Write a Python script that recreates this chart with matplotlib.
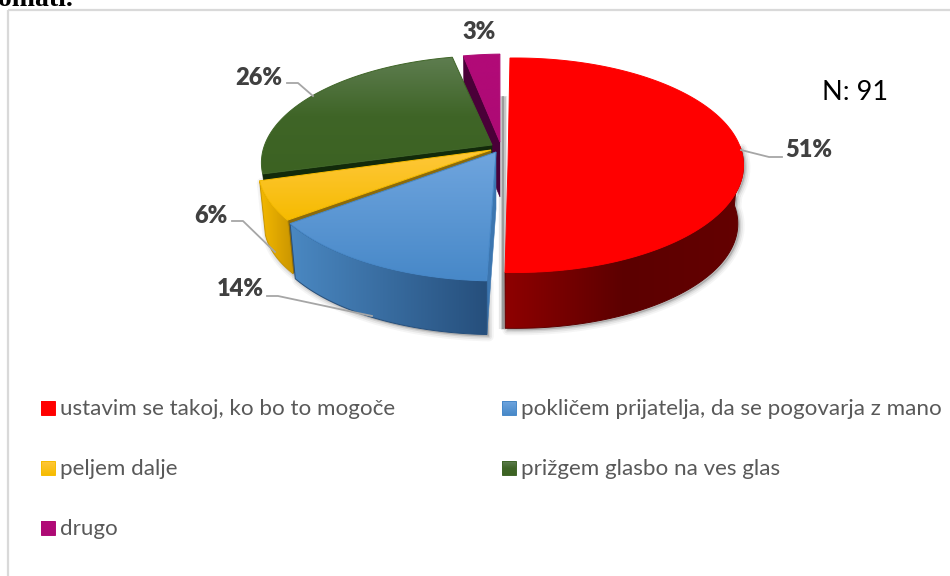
import numpy as np
import matplotlib
matplotlib.use('Agg')
import matplotlib.pyplot as plt
from matplotlib.colors import LinearSegmentedColormap
from matplotlib.patches import Polygon, Rectangle

plt.rcParams['font.family'] = ['Lato', 'DejaVu Sans']

# data
labels = ['ustavim se takoj, ko bo to mogoče', 'pokličem prijatelja, da se pogovarja z mano',
          'peljem dalje', 'prižgem glasbo na ves glas', 'drugo']
values = [51, 14, 6, 26, 3]
n_text = 'N: 91'

# slice styling, same order as values
centre_x = [515, 497, 491, 494, 505]
centre_y = [146.5, 150, 152, 144, 146]
hub_x = [508, 496, 491, 492, 500]
hub_y = [165, 152, 150, 145, 142]
radius_x = [225, 233, 229, 229, 229]
radius_y = [104, 108, 100, 104, 108]
depth = [59, 57, 55, 55, 55]
top_cols = [['#ff0000', '#ff0000'], ['#6fa5de', '#4788c8'], ['#ffc83c', '#f6bb00'],
            ['#5e7d50', '#3f6527', '#3c6222'], ['#b20a78', '#ad0a74']]
wall_cols = [['#8e0000', '#5c0000', '#640000'], ['#4a88c2', '#264f7c'], ['#f4b800', '#c99500'],
             ['#1c3a10', '#1c3a10'], ['#4a0038', '#4a0038']]
face_cols = ['#8e0000', '#3c76b0', '#8a6a0c', '#122a0a', '#4a0038']
leaders = [[(741, 150), (769, 157), (782, 157)], [(267, 296), (278, 296), (372, 316)],
           [(232, 221), (243, 221), (275, 252)], [(287, 83), (298, 83), (313, 96)], None]
label_xy = [(809, 150), (240, 289), (211, 216), (259, 78), (479, 32)]

start_deg = -1.5
persp = 0.175
shrink = 0.975


def rim(i, t_deg, low=False):
    # point of the slice rim, pie seen in perspective
    t = np.radians(t_deg)
    X, Y = np.sin(t), np.cos(t)
    s = 1 / (1 + persp * Y)
    k = shrink if low else 1
    x = centre_x[i] + radius_x[i] * X * s * k
    y = centre_y[i] - radius_y[i] * Y * s * k + (depth[i] if low else 0)
    return np.column_stack([x, y])


def grad(pts, cols, vertical=True):
    pts = np.asarray(pts)
    cmap = LinearSegmentedColormap.from_list('g', cols)
    g = np.linspace(0, 1, 256)
    g = g[:, None] if vertical else g[None, :]
    x0, y0 = pts.min(axis=0)
    x1, y1 = pts.max(axis=0)
    im = ax.imshow(g, cmap=cmap, extent=(x0, x1, y1, y0), aspect='auto', origin='upper', zorder=z[0],
                   interpolation='bilinear')
    im.set_clip_path(Polygon(pts, transform=ax.transData))
    ax.add_patch(Polygon(pts, fill=False, ec=cols[len(cols) // 2], lw=0.7, zorder=z[0]))
    z[0] += 1


z = [3]
fig = plt.figure(figsize=(9.5, 5.76), dpi=100)
ax = fig.add_axes([0, 0, 1, 1])
ax.axis('off')

ax.text(-2, 6, 'omati.', family=['Liberation Serif'], fontweight='bold', fontsize=20, color='black',
        ha='left', va='baseline', clip_on=False)
ax.add_patch(Rectangle((8, 10), 1000, 700, fill=False, ec='#d9d9d9', lw=1.6, zorder=1))

edges = start_deg + np.concatenate([[0], np.cumsum(values)]) * 3.6
slices = list(zip(edges[:-1], edges[1:]))
draw_order = [4, 3, 2, 1, 0]

# soft shadow under the walls
for i in draw_order[2:]:
    t0, t1 = slices[i]
    t = np.linspace(max(t0, 90), min(t1, 270), 60)
    pts = np.vstack([rim(i, t), rim(i, t[::-1], low=True)]) + [2, 2]
    for w, a in [(7, 0.05), (4.5, 0.08), (2, 0.12)]:
        ax.add_patch(Polygon(pts, fc='#404040', ec='#404040', lw=w, alpha=a, zorder=2, joinstyle='round'))

# grey shadow left of the red slice
top_p, end_p = rim(0, slices[0][0])[0], rim(0, slices[0][1], low=True)[0]
for w, a in [(6, 0.12), (3.5, 0.2), (1.5, 0.3)]:
    ax.plot([end_p[0] - 2, end_p[0] - 2], [top_p[1] + 38, end_p[1] + 1], color='#404040', lw=w, alpha=a,
            zorder=2, solid_capstyle='butt')

for i in draw_order:
    t0, t1 = slices[i]
    hub = np.array([[hub_x[i], hub_y[i]]])
    # cut face at the start of the slice
    p_hi, p_lo = rim(i, t0), rim(i, t0, low=True)
    face = np.vstack([hub, p_hi, p_lo, hub + [0, depth[i]]])
    if i != 0:
        ax.add_patch(Polygon(face, fc=face_cols[i], ec=face_cols[i], lw=0.4, zorder=z[0]))
        z[0] += 1
    # outer wall
    a, b = max(t0, 90), min(t1, 270)
    if b > a and i != 3:
        t = np.linspace(a, b, 80)
        grad(np.vstack([rim(i, t), rim(i, t[::-1], low=True)]), wall_cols[i], vertical=False)
    # top
    top = np.vstack([hub, rim(i, np.linspace(t0, t1, 120))])
    grad(top, top_cols[i])

for i, path in enumerate(leaders):
    if path:
        ax.plot(*zip(*path), color='#a6a6a6', lw=1.3, zorder=60)
    ax.text(*label_xy[i], f'{values[i]}%', fontsize=17, fontweight='heavy', color='#404040',
            ha='center', va='center', zorder=61)

ax.text(855, 93, n_text, fontsize=19.5, color='black', ha='center', va='center', zorder=61)

# legend
legend_x = [41, 502, 41, 502, 41]
legend_y = [408, 408, 468, 468, 528]
for i, lab in enumerate(labels):
    x, y = legend_x[i], legend_y[i]
    pts = [(x, y - 7), (x + 14, y - 7), (x + 14, y + 7), (x, y + 7)]
    grad(pts, top_cols[i])
    ax.text(x + 19, y + 1, lab, fontsize=16.1, color='#595959', ha='left', va='center', zorder=61)

ax.set_xlim(0, 950)
ax.set_ylim(576, 0)
fig.savefig('out.png', dpi=100)
